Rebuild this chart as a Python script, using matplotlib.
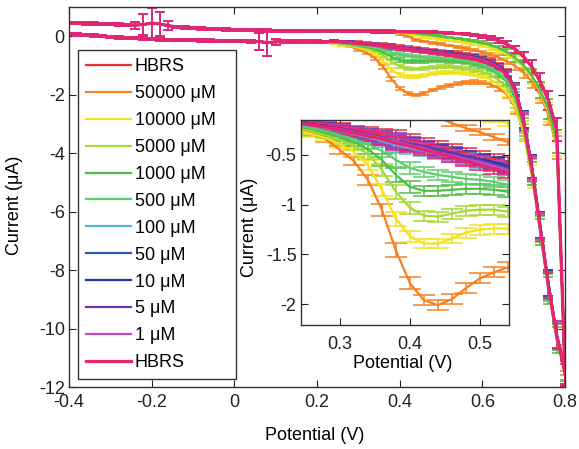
import numpy as np
import matplotlib
matplotlib.use("Agg")
import matplotlib.pyplot as plt

plt.rcParams['font.family'] = ['Liberation Sans', 'DejaVu Sans']
plt.rcParams['axes.unicode_minus'] = False

# ---------------- data ----------------
labels = ["HBRS", "50000 μM", "10000 μM", "5000 μM", "1000 μM", "500 μM",
          "100 μM", "50 μM", "10 μM", "5 μM", "1 μM", "HBRS"]
colors = ["#e8302e", "#f7801f", "#f2e21c", "#a6d934", "#4fbf45", "#5ccf6b",
          "#4fb6e3", "#2e58b8", "#22389e", "#6c36b4", "#c04cc4", "#e8246e"]

# potential grids (V)
pot_upper_left = np.round(np.arange(-0.40, 0.39, 0.02), 2)   # -0.40 .. 0.38
pot_upper_right = np.round(np.arange(0.40, 0.81, 0.02), 2)   # 0.40 .. 0.80
pot_lower_left = np.round(np.arange(-0.40, 0.23, 0.02), 2)   # -0.40 .. 0.22
pot_lower_right = np.round(np.arange(0.24, 0.81, 0.02), 2)   # 0.24 .. 0.80

# upper (return) branch, shared left part (uA)
upper_left = [0.46, 0.45, 0.44, 0.43, 0.42, 0.41, 0.40, 0.39, 0.38, 0.40,
              0.45, 0.42, 0.36, 0.32, 0.30, 0.28, 0.26, 0.25, 0.24, 0.23,
              0.22, 0.21, 0.21, 0.20, 0.20, 0.19, 0.19, 0.19, 0.18, 0.18,
              0.18, 0.18, 0.18, 0.17, 0.17, 0.17, 0.17, 0.16, 0.16, 0.16]
upper_right_std = [0.16, 0.15, 0.15, 0.14, 0.14, 0.13, 0.11, 0.09, 0.07, 0.04,
                   0.00, -0.06, -0.15, -0.28, -0.45, -0.70, -1.05, -1.55, -2.20, -3.20, -11.5]
upper_right_mid = [0.14, 0.12, 0.10, 0.07, 0.04, 0.00, -0.04, -0.08, -0.12, -0.17,
                   -0.23, -0.30, -0.40, -0.55, -0.75, -1.00, -1.35, -1.85, -2.50, -3.60, -11.3]
upper_right_10000 = [0.12, 0.08, 0.03, -0.02, -0.06, -0.10, -0.14, -0.18, -0.22, -0.27,
                     -0.33, -0.40, -0.50, -0.63, -0.80, -1.05, -1.40, -1.90, -2.60, -3.70, -11.3]
upper_right_50000 = [0.08, 0.00, -0.12, -0.18, -0.23, -0.27, -0.32, -0.37, -0.42, -0.48,
                     -0.55, -0.63, -0.73, -0.86, -1.02, -1.25, -1.55, -2.00, -2.70, -3.80, -11.0]
upper_right = [upper_right_std, upper_right_50000, upper_right_10000, upper_right_mid,
               upper_right_mid, upper_right_std, upper_right_std, upper_right_std,
               upper_right_std, upper_right_std, upper_right_std, upper_right_std]

# lower (forward) branch, shared left part (uA)
lower_left = [0.08, 0.06, 0.04, 0.02, 0.00, -0.02, -0.04, -0.06, -0.07, -0.08,
              -0.10, -0.11, -0.12, -0.13, -0.14, -0.14, -0.15, -0.15, -0.16, -0.16,
              -0.17, -0.17, -0.18, -0.18, -0.22, -0.19, -0.18, -0.18, -0.18, -0.18,
              -0.18, -0.19]
# lower branch right part, one list per series (0.24 .. 0.80 V)
lower_right = [
    [-0.17, -0.18, -0.20, -0.22, -0.25, -0.27, -0.30, -0.32, -0.35, -0.38, -0.41, -0.44, -0.48, -0.51, -0.54,
     -0.57, -0.61, -0.66, -0.73, -0.83, -0.98, -1.25, -1.80, -2.90, -4.50, -6.50, -8.50, -10.2, -11.6],
    [-0.24, -0.28, -0.34, -0.45, -0.56, -0.75, -1.05, -1.46, -1.79, -1.96, -2.01, -1.95, -1.84, -1.74, -1.68,
     -1.63, -1.58, -1.57, -1.59, -1.65, -1.78, -2.00, -2.45, -3.30, -4.70, -6.60, -8.50, -10.2, -11.2],
    [-0.25, -0.29, -0.33, -0.39, -0.47, -0.60, -0.85, -1.14, -1.32, -1.39, -1.39, -1.34, -1.28, -1.25, -1.24,
     -1.24, -1.26, -1.30, -1.37, -1.48, -1.65, -1.95, -2.40, -3.30, -4.80, -6.70, -8.60, -10.3, -11.4],
    [-0.22, -0.26, -0.30, -0.35, -0.41, -0.49, -0.65, -0.87, -1.03, -1.11, -1.12, -1.09, -1.06, -1.05, -1.05,
     -1.07, -1.10, -1.15, -1.22, -1.33, -1.50, -1.78, -2.25, -3.20, -4.70, -6.60, -8.60, -10.3, -11.4],
    [-0.21, -0.24, -0.28, -0.32, -0.37, -0.44, -0.55, -0.70, -0.82, -0.86, -0.86, -0.85, -0.84, -0.84, -0.85,
     -0.87, -0.90, -0.95, -1.02, -1.13, -1.30, -1.58, -2.10, -3.10, -4.70, -6.70, -8.70, -10.4, -11.4],
    [-0.20, -0.23, -0.26, -0.30, -0.34, -0.39, -0.46, -0.55, -0.63, -0.67, -0.70, -0.72, -0.74, -0.75, -0.77,
     -0.80, -0.84, -0.90, -0.97, -1.08, -1.25, -1.52, -2.00, -3.00, -4.60, -6.60, -8.60, -10.3, -11.4],
    [-0.19, -0.21, -0.23, -0.26, -0.29, -0.32, -0.36, -0.40, -0.43, -0.46, -0.49, -0.52, -0.55, -0.58, -0.61,
     -0.64, -0.68, -0.73, -0.80, -0.90, -1.05, -1.30, -1.85, -2.90, -4.50, -6.50, -8.50, -10.2, -11.5],
    [-0.18, -0.20, -0.22, -0.25, -0.28, -0.31, -0.34, -0.37, -0.40, -0.43, -0.46, -0.49, -0.52, -0.55, -0.58,
     -0.62, -0.66, -0.71, -0.78, -0.88, -1.03, -1.28, -1.82, -2.85, -4.45, -6.45, -8.45, -10.2, -11.5],
    [-0.18, -0.19, -0.21, -0.24, -0.27, -0.30, -0.33, -0.36, -0.39, -0.42, -0.45, -0.48, -0.51, -0.54, -0.57,
     -0.61, -0.65, -0.70, -0.77, -0.87, -1.02, -1.27, -1.80, -2.85, -4.45, -6.45, -8.45, -10.2, -11.5],
    [-0.17, -0.19, -0.21, -0.23, -0.26, -0.29, -0.32, -0.35, -0.38, -0.41, -0.44, -0.47, -0.51, -0.55, -0.59,
     -0.63, -0.67, -0.72, -0.79, -0.89, -1.04, -1.29, -1.83, -2.90, -4.50, -6.50, -8.50, -10.2, -11.5],
    [-0.18, -0.20, -0.22, -0.24, -0.27, -0.30, -0.33, -0.36, -0.40, -0.43, -0.47, -0.50, -0.54, -0.57, -0.61,
     -0.65, -0.69, -0.74, -0.81, -0.91, -1.06, -1.31, -1.85, -2.90, -4.50, -6.50, -8.50, -10.2, -11.5],
    [-0.18, -0.20, -0.22, -0.25, -0.28, -0.31, -0.34, -0.38, -0.41, -0.45, -0.48, -0.52, -0.56, -0.60, -0.64,
     -0.68, -0.72, -0.77, -0.84, -0.94, -1.09, -1.34, -1.88, -2.95, -4.55, -6.55, -8.55, -10.25, -11.5],
]

# error bars (uA)
err_upper_left = [0.04] * 8 + [0.12, 0.35, 0.50, 0.40, 0.15] + [0.04] * 27
err_upper_right = [0.03, 0.03, 0.03, 0.03, 0.03, 0.03, 0.03, 0.03, 0.04, 0.04, 0.05,
                   0.06, 0.08, 0.10, 0.13, 0.17, 0.22, 0.28, 0.34, 0.40, 0.45]
err_lower_left = [0.04] * 23 + [0.30, 0.45, 0.10] + [0.04] * 6
err_lower_right = [0.03, 0.03, 0.03, 0.04, 0.04, 0.05, 0.06, 0.07, 0.06, 0.05, 0.05, 0.05,
                   0.05, 0.05, 0.05, 0.05, 0.05, 0.06, 0.06, 0.07, 0.08, 0.12, 0.20, 0.30,
                   0.40, 0.45, 0.45, 0.45, 0.40]

xticks_main = [-0.4, -0.2, 0, 0.2, 0.4, 0.6, 0.8]
xticklabels_main = ["-0.4", "-0.2", "0", "0.2", "0.4", "0.6", "0.8"]
yticks_main = [0, -2, -4, -6, -8, -10, -12]
yticklabels_main = ["0", "-2", "-4", "-6", "-8", "-10", "-12"]
xticks_inset = [0.3, 0.4, 0.5]
xticklabels_inset = ["0.3", "0.4", "0.5"]
yticks_inset = [-0.5, -1, -1.5, -2]
yticklabels_inset = ["-0.5", "-1", "-1.5", "-2"]

# ---------------- figure ----------------
W, H = 579, 449
fig = plt.figure(figsize=(W / 100, H / 100), dpi=100)
FS = 13

ax = fig.add_axes([69 / W, 1 - 387 / H, 496 / W, 380 / H])
axin = fig.add_axes([300.7 / W, 1 - 325 / H, 208.6 / W, 205 / H])

x_up = np.concatenate([pot_upper_left, pot_upper_right])
x_lo = np.concatenate([pot_lower_left, pot_lower_right])
e_up = np.array(err_upper_left + err_upper_right)
e_lo = np.array(err_lower_left + err_lower_right)

handles = []
for i in range(len(labels)):
    y_up = np.array(upper_left + upper_right[i])
    y_lo = np.array(lower_left + lower_right[i])
    lw = 2.3 if i == len(labels) - 1 else 1.6
    for a, cs in ((ax, 3.5), (axin, 8)):
        c1 = a.errorbar(x_up, y_up, yerr=e_up, color=colors[i], lw=lw, elinewidth=1.1,
                        capsize=cs, capthick=1.1, zorder=2 + i * 0.01)
        a.errorbar(x_lo, y_lo, yerr=e_lo, color=colors[i], lw=lw, elinewidth=1.1,
                   capsize=cs, capthick=1.1, zorder=2 + i * 0.01)
        if a is ax:
            handles.append(c1[0])

for a in (ax, axin):
    a.tick_params(direction='in', top=True, right=True, length=5, width=0.8,
                  labelsize=FS, colors='#222222')
    for s in a.spines.values():
        s.set_color('#333333')
        s.set_linewidth(1.0)
ax.tick_params(axis='x', pad=5)
ax.tick_params(axis='y', pad=3)
axin.tick_params(axis='x', pad=8)
axin.tick_params(axis='y', pad=3)

ax.set_xlim(-0.4, 0.8)
ax.set_ylim(-12, 1)
ax.set_xticks(xticks_main)
ax.set_xticklabels(xticklabels_main)
ax.set_yticks(yticks_main)
ax.set_yticklabels(yticklabels_main)

axin.set_xlim(0.244, 0.542)
axin.set_ylim(-2.21, -0.148)
axin.set_xticks(xticks_inset)
axin.set_xticklabels(xticklabels_inset)
axin.set_yticks(yticks_inset)
axin.set_yticklabels(yticklabels_inset)
axin.set_facecolor('white')

fig.text(315 / W, 1 - 435 / H, "Potential (V)", ha='center', va='center', fontsize=FS)
fig.text(15 / W, 1 - 205 / H, "Current (μA)", ha='center', va='center', rotation=90, fontsize=FS)
fig.text(403 / W, 1 - 363 / H, "Potential (V)", ha='center', va='center', fontsize=FS)
fig.text(249 / W, 1 - 227 / H, "Current (μA)", ha='center', va='center', rotation=90, fontsize=FS)

leg = ax.legend(handles, labels, loc='upper left',
                bbox_to_anchor=((78 - 69) / 496, (387 - 375) / 380, 158 / 496, 325 / 380),
                mode='expand', borderaxespad=0, fontsize=FS, frameon=True, fancybox=False,
                framealpha=1, edgecolor='#333333', handlelength=2.5, handletextpad=0.2,
                labelspacing=0.55, borderpad=0.45)
leg.get_frame().set_linewidth(1.0)
leg.set_zorder(10)

fig.savefig("out.png", dpi=100)
